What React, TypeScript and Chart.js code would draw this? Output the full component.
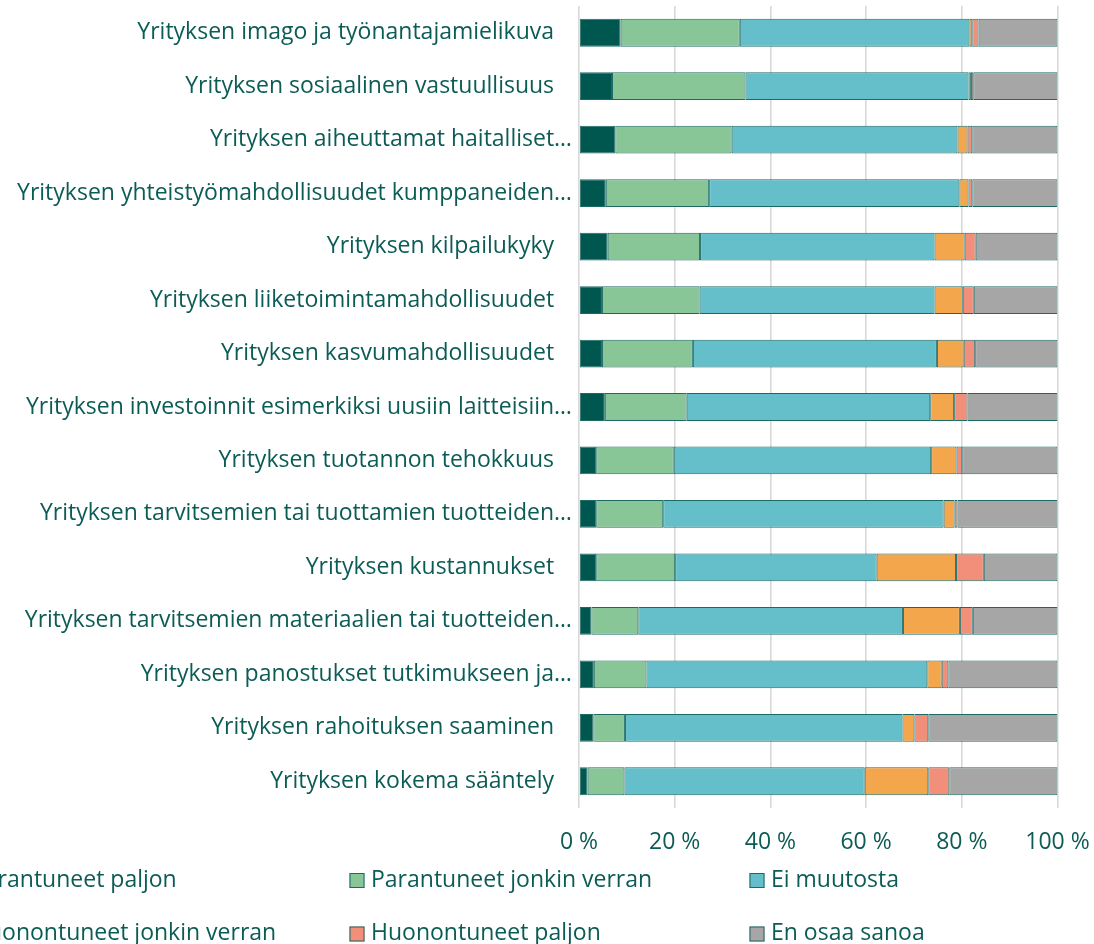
import React, { useEffect, useRef } from 'react';
import { Chart, registerables } from 'chart.js';

Chart.register(...registerables);

const categories = [
  'Yrityksen imago ja työnantajamielikuva   ',
  'Yrityksen sosiaalinen vastuullisuus   ',
  'Yrityksen aiheuttamat haitalliset…',
  'Yrityksen yhteistyömahdollisuudet kumppaneiden…',
  'Yrityksen kilpailukyky   ',
  'Yrityksen liiketoimintamahdollisuudet   ',
  'Yrityksen kasvumahdollisuudet   ',
  'Yrityksen investoinnit esimerkiksi uusiin laitteisiin…',
  'Yrityksen tuotannon tehokkuus   ',
  'Yrityksen tarvitsemien tai tuottamien tuotteiden…',
  'Yrityksen kustannukset   ',
  'Yrityksen tarvitsemien materiaalien tai tuotteiden…',
  'Yrityksen panostukset tutkimukseen ja…',
  'Yrityksen rahoituksen saaminen   ',
  'Yrityksen kokema sääntely   ',
];

const seriesNames = [
  'Parantuneet paljon',
  'Parantuneet jonkin verran',
  'Ei muutosta',
  'Huonontuneet jonkin verran',
  'Huonontuneet paljon',
  'En osaa sanoa',
];

const parantuneetPaljon = [8.7, 6.9, 7.6, 5.6, 6.0, 4.8, 4.8, 5.4, 3.6, 3.6, 3.6, 2.6, 3.1, 3.0, 1.8];
const parantuneetJonkin = [24.9, 27.9, 24.3, 21.6, 19.3, 20.4, 19.0, 17.1, 16.2, 14.0, 16.5, 9.8, 11.0, 6.6, 7.7];
const eiMuutosta = [48.0, 46.6, 47.2, 52.3, 49.0, 49.1, 51.0, 50.9, 53.8, 58.6, 42.1, 55.3, 58.7, 58.0, 50.2];
const huonontuneetJonkin = [0.6, 0.5, 2.1, 1.9, 6.3, 5.9, 5.6, 5.0, 5.3, 2.3, 16.6, 11.9, 3.0, 2.5, 13.3];
const huonontuneetPaljon = [1.3, 0.5, 1.0, 0.8, 2.3, 2.3, 2.4, 2.8, 1.2, 0.6, 5.8, 2.7, 1.4, 2.9, 4.4];
const enOsaaSanoa = [16.5, 17.6, 17.8, 17.8, 17.1, 17.5, 17.2, 18.8, 19.9, 20.9, 15.4, 17.7, 22.8, 27.0, 22.6];

const xTickValues = [0, 20, 40, 60, 80, 100];

const seriesValues = [
  parantuneetPaljon,
  parantuneetJonkin,
  eiMuutosta,
  huonontuneetJonkin,
  huonontuneetPaljon,
  enOsaaSanoa,
];
const seriesColors = ['#005750', '#88c597', '#64bfca', '#f4a64d', '#f28f7a', '#a6a6a6'];

const TEXT = '#0c5c56';
const BORDER = '#1d6a65';
const FONT = "'Open Sans'";
const FS = 23;

const gridLegend = {
  id: 'gridLegend',
  afterDraw(chart: any) {
    const ctx = chart.ctx;
    ctx.save();
    ctx.font = `${FS}px ${FONT}`;
    ctx.textBaseline = 'middle';
    ctx.textAlign = 'left';
    chart.data.datasets.forEach((ds: any, i: number) => {
      const col = i % 3;
      const row = Math.floor(i / 3);
      const x = -50.5 + col * 400;
      const y = 880 + row * 53.5;
      ctx.fillStyle = ds.backgroundColor;
      ctx.fillRect(x, y - 7, 15, 15);
      ctx.strokeStyle = BORDER;
      ctx.lineWidth = 1;
      ctx.strokeRect(x + 0.5, y - 6.5, 14, 14);
      ctx.fillStyle = TEXT;
      ctx.fillText(ds.label, x + 21.5, y);
    });
    ctx.restore();
  },
};

export default function App() {
  const ref = useRef<HTMLCanvasElement | null>(null);

  useEffect(() => {
    if (!ref.current) return;
    const chart = new Chart(ref.current, {
      type: 'bar',
      data: {
        labels: categories,
        datasets: seriesNames.map((name, i) => ({
          label: name,
          data: seriesValues[i],
          backgroundColor: seriesColors[i],
          borderColor: BORDER,
          borderWidth: 1,
          borderSkipped: false,
          barPercentage: 0.52,
          categoryPercentage: 1,
        })),
      },
      options: {
        indexAxis: 'y',
        responsive: false,
        animation: false,
        devicePixelRatio: 1,
        layout: { padding: { top: 6, right: 36.5, left: 0, bottom: 0 } },
        plugins: {
          legend: { display: false },
          tooltip: { enabled: false },
          title: { display: false },
        },
        scales: {
          x: {
            stacked: true,
            min: 0,
            max: 100,
            afterBuildTicks: (scale: any) => {
              scale.ticks = xTickValues.map((v) => ({ value: v }));
            },
            afterFit: (scale: any) => {
              scale.height = 136;
              scale.paddingLeft = 0;
              scale.paddingRight = 0;
            },
            ticks: {
              callback: (v: any) => `${v} %`,
              color: TEXT,
              font: { family: FONT, size: FS },
              padding: 21,
              maxRotation: 0,
            },
            grid: { color: '#d9d9d9', lineWidth: 1.6, drawTicks: false },
            border: { display: false },
          },
          y: {
            stacked: true,
            afterFit: (scale: any) => {
              scale.width = 579;
              scale.paddingTop = 0;
              scale.paddingBottom = 0;
            },
            ticks: {
              color: TEXT,
              font: { family: FONT, size: FS },
              padding: 7,
              autoSkip: false,
            },
            grid: { display: false, drawTicks: false },
            border: { display: false },
          },
        },
      },
      plugins: [gridLegend],
    } as any);
    return () => chart.destroy();
  }, []);

  return (
    <div style={{ position: 'absolute', left: 0, top: 0, width: 1094, height: 944, overflow: 'hidden', background: '#fff' }}>
      <canvas ref={ref} width={1094} height={944} style={{ display: 'block' }} />
    </div>
  );
}
